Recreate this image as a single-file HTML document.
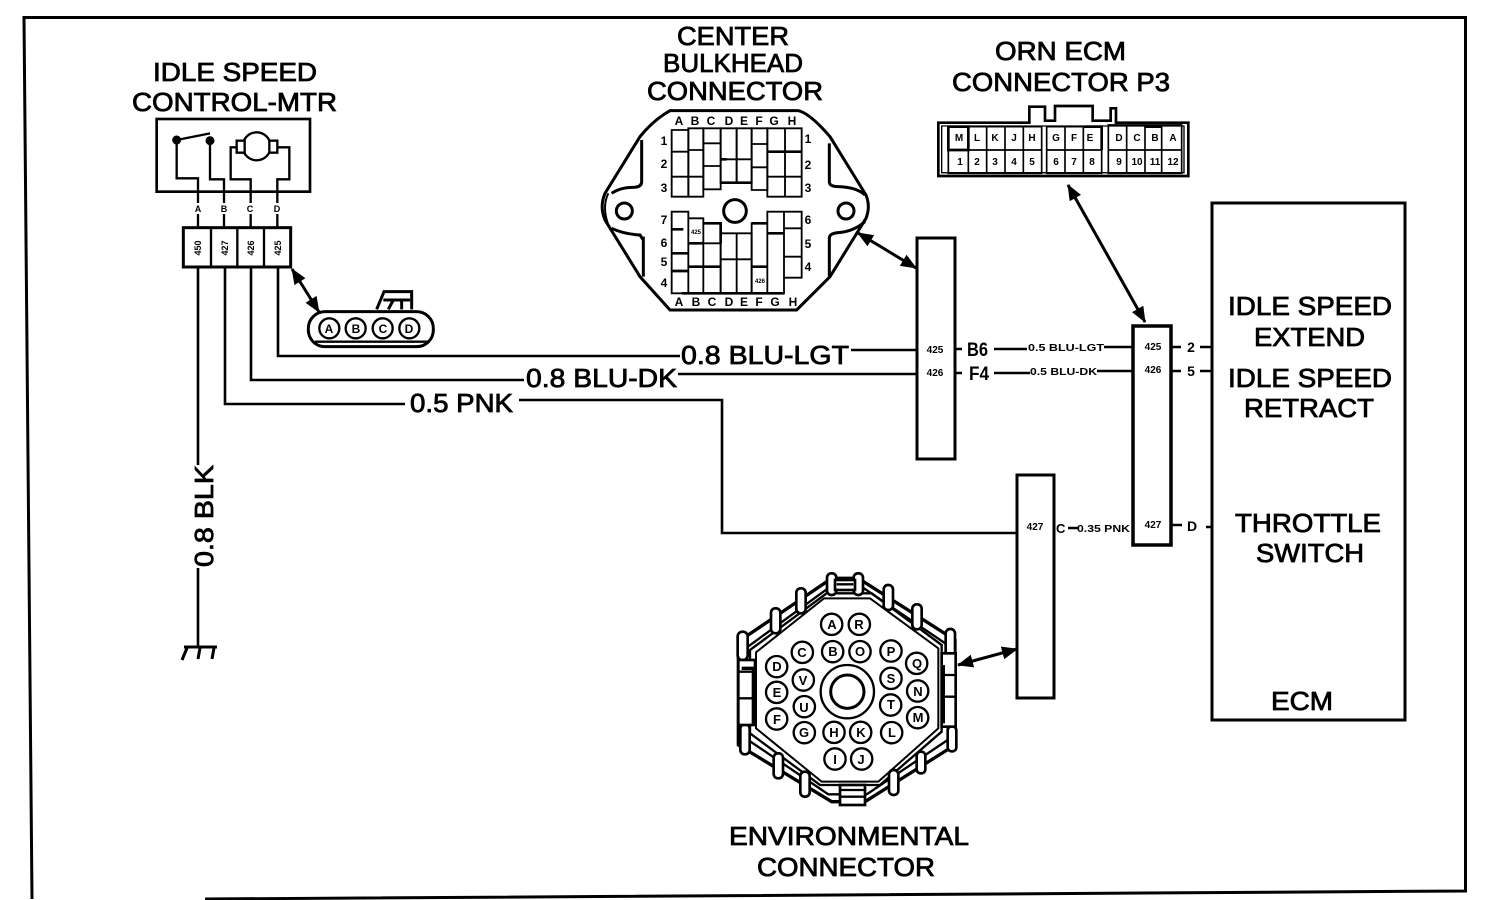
<!DOCTYPE html>
<html><head><meta charset="utf-8"><title>Idle Speed Control Diagram</title>
<style>
html,body{margin:0;padding:0;background:#fff}
svg{display:block}
text{font-family:"Liberation Sans",sans-serif;fill:#000}
.t{font-size:26px;stroke:#000;stroke-width:.8px}
.m{font-size:10px;font-weight:bold}
.s{font-size:9px}
.z{font-weight:bold;text-anchor:middle}
.w{fill:none;stroke:#000;stroke-width:2.6}
</style></head><body>
<svg width="1504" height="900" viewBox="0 0 1504 900" xmlns="http://www.w3.org/2000/svg">
<defs>
<marker id="b" markerWidth="16" markerHeight="13" refX="15" refY="6.500" orient="auto-start-reverse" markerUnits="userSpaceOnUse" viewBox="0 0 16 13"><path d="M0 0L16 6.500L0 13Z"/></marker>
</defs>
<rect width="1504" height="900" fill="#fff"/>

<!-- frame -->
<path d="M32 899L24 17.500L1465.500 17.500V891L205 899" fill="none" stroke="#000" stroke-width="3"/>

<!-- headings -->
<text class="t" x="153" y="81" textLength="164" lengthAdjust="spacingAndGlyphs">IDLE SPEED</text>
<text class="t" x="132" y="111" textLength="205" lengthAdjust="spacingAndGlyphs">CONTROL-MTR</text>
<text class="t" x="677" y="45" textLength="112" lengthAdjust="spacingAndGlyphs">CENTER</text>
<text class="t" x="663" y="72" textLength="140" lengthAdjust="spacingAndGlyphs">BULKHEAD</text>
<text class="t" x="647" y="100" textLength="176" lengthAdjust="spacingAndGlyphs">CONNECTOR</text>
<text class="t" x="995" y="60" textLength="131" lengthAdjust="spacingAndGlyphs">ORN ECM</text>
<text class="t" x="952" y="91" textLength="218" lengthAdjust="spacingAndGlyphs">CONNECTOR P3</text>
<text class="t" x="729" y="845" textLength="240" lengthAdjust="spacingAndGlyphs">ENVIRONMENTAL</text>
<text class="t" x="757" y="876" textLength="178" lengthAdjust="spacingAndGlyphs">CONNECTOR</text>

<!-- ECM -->
<rect x="1212" y="203" width="193" height="517" fill="none" stroke="#000" stroke-width="3"/>
<text class="t" x="1228" y="315" textLength="164" lengthAdjust="spacingAndGlyphs">IDLE SPEED</text>
<text class="t" x="1254" y="346" textLength="111" lengthAdjust="spacingAndGlyphs">EXTEND</text>
<text class="t" x="1228" y="387" textLength="164" lengthAdjust="spacingAndGlyphs">IDLE SPEED</text>
<text class="t" x="1244" y="417" textLength="130" lengthAdjust="spacingAndGlyphs">RETRACT</text>
<text class="t" x="1235" y="532" textLength="146" lengthAdjust="spacingAndGlyphs">THROTTLE</text>
<text class="t" x="1256" y="562" textLength="108" lengthAdjust="spacingAndGlyphs">SWITCH</text>
<text class="t" x="1271" y="710" textLength="62" lengthAdjust="spacingAndGlyphs">ECM</text>

<!-- motor box -->
<g transform="translate(130 50) scale(.33333)" fill="none" stroke="#000">
<rect x="80" y="207" width="460" height="218" stroke-width="8"/>
<path d="M140 270V385H204V530M240 272V388H282V530M362 530V388H302V292H325M442 530V388H478V292H440" stroke-width="7"/>
<circle cx="140" cy="270" r="13" fill="#000"/><circle cx="240" cy="272" r="13" fill="#000"/>
<path d="M140 270L240 250" stroke-width="7"/>
<circle cx="380" cy="289" r="42" stroke-width="7" fill="#fff"/>
<rect x="320" y="272" width="24" height="36" stroke-width="7" fill="#fff"/><rect x="418" y="272" width="24" height="36" stroke-width="7" fill="#fff"/>
<rect x="160" y="533" width="322" height="118" stroke-width="9" fill="#fff"/>
<path d="M243 533V651M322 533V651M402 533V651" stroke-width="7"/>
</g>
<g class="s">
<rect x="190" y="203" width="96" height="11" fill="#fff"/>
<text class="z" x="198" y="212" font-size="9">A</text><text class="z" x="224" y="212" font-size="9">B</text><text class="z" x="250" y="212" font-size="9">C</text><text class="z" x="277" y="212" font-size="9">D</text>
<text class="z" font-size="9" transform="translate(201 248) rotate(-90)">450</text>
<text class="z" font-size="9" transform="translate(228 248) rotate(-90)">427</text>
<text class="z" font-size="9" transform="translate(254 248) rotate(-90)">426</text>
<text class="z" font-size="9" transform="translate(281 248) rotate(-90)">425</text>
</g>

<!-- wires from motor connector -->
<path class="w" d="M198 267V465M198 568V648"/>
<path class="w" d="M225 267V404H405M519 400H722V533H1017"/>
<path class="w" d="M251 267V380H524M678 374H916"/>
<path class="w" d="M278 267V356H680M851 350H916"/>
<text class="t" transform="translate(213 567) rotate(-90)" textLength="102" lengthAdjust="spacingAndGlyphs">0.8 BLK</text>
<text class="t" x="410" y="412" textLength="103" lengthAdjust="spacingAndGlyphs">0.5 PNK</text>
<text class="t" x="526" y="387" textLength="151" lengthAdjust="spacingAndGlyphs">0.8 BLU-DK</text>
<text class="t" x="681" y="364" textLength="168" lengthAdjust="spacingAndGlyphs">0.8 BLU-LGT</text>
<path d="M184 647H217M187 648L182 660M200 648L198 659M214 648L212 659" fill="none" stroke="#000" stroke-width="3"/>

<!-- small connector -->
<g transform="translate(130 50) scale(.33333)" fill="none" stroke="#000">
<rect x="535" y="785" width="375" height="105" rx="50" stroke-width="9"/>
<path d="M555 875H895" stroke-width="7"/>
<path d="M740 778L762 725H845V778M760 750H840M775 778L790 750M815 750V778" stroke-width="9"/>
<circle cx="598" cy="835" r="30" stroke-width="7" fill="#fff"/><circle cx="677" cy="835" r="30" stroke-width="7" fill="#fff"/><circle cx="758" cy="835" r="30" stroke-width="7" fill="#fff"/><circle cx="838" cy="835" r="30" stroke-width="7" fill="#fff"/>
</g>
<g font-size="12"><text class="z" x="329" y="333">A</text><text class="z" x="356" y="333">B</text><text class="z" x="383" y="333">C</text><text class="z" x="409" y="333">D</text></g>
<path d="M292 269L319 312" stroke="#000" stroke-width="3" marker-start="url(#b)" marker-end="url(#b)"/>

<!-- bulkhead connector -->
<g transform="translate(590 100) scale(.33333)" fill="none" stroke="#000">
<path d="M240 32H625Q660 40 720 110L828 285Q842 320 828 355L720 530L620 630H240L150 530L45 360Q28 320 45 280L150 110Q190 60 240 32Z" stroke-width="9"/>
<path d="M155 120V245Q155 262 130 262Q90 262 65 280M160 410V530M65 385Q100 402 150 405L160 420M718 130V245Q718 260 745 260Q800 262 825 285M718 530V415Q718 400 745 398Q790 395 825 365" stroke-width="9"/>
<path d="M55 280Q35 320 55 375" stroke-width="6"/>
<circle cx="103" cy="333" r="24" stroke-width="9"/><circle cx="435" cy="333" r="34" stroke-width="9"/><circle cx="768" cy="333" r="24" stroke-width="9"/>
<g stroke-width="5.500">
<path d="M245 90H295V290H245ZM245 155H295M245 230H295"/>
<path d="M295 85H340V290H295ZM295 150H340M295 230H340"/>
<path d="M340 85H392V268H340ZM340 130H392M340 198H392"/>
<path d="M392 85H440V248H392ZM392 178H440"/>
<path d="M440 85H485V248H440ZM440 178H485"/>
<path d="M485 85H532V270H485ZM485 132H532M485 202H532"/>
<path d="M532 85H585V290H532ZM585 85H635V290H585ZM532 230H635"/>
<path d="M245 335H295V580H245ZM295 355H340V580H295ZM340 430H392V580H340Z"/>
<path d="M392 400H440V580H392ZM440 400H485V580H440ZM392 478H485"/>
<path d="M485 370H532V580H485ZM532 335H582V580H532ZM582 335H635V533H582ZM582 385H635M582 470H635"/>
</g>
<path d="M532 155H635M392 178H410M392 248H485M245 388H280M245 460H295M245 513H295M295 430H340M295 500H392M340 370H392V430M485 370H532M485 500H532M532 400H582M275 580H582" stroke-width="8"/>
</g>
<g font-size="12">
<g class="z">
<text x="679" y="125">A</text><text x="695" y="125">B</text><text x="711" y="125">C</text><text x="729" y="125">D</text><text x="744" y="125">E</text><text x="759" y="125">F</text><text x="774" y="125">G</text><text x="792" y="125">H</text>
<text x="679" y="306">A</text><text x="696" y="306">B</text><text x="712" y="306">C</text><text x="729" y="306">D</text><text x="744" y="306">E</text><text x="759" y="306">F</text><text x="775" y="306">G</text><text x="793" y="306">H</text>
<text x="664" y="145">1</text><text x="664" y="168">2</text><text x="664" y="192">3</text>
<text x="808" y="143">1</text><text x="808" y="169">2</text><text x="808" y="192">3</text>
<text x="664" y="224">7</text><text x="664" y="247">6</text><text x="664" y="266">5</text><text x="664" y="287">4</text>
<text x="808" y="224">6</text><text x="808" y="248">5</text><text x="808" y="271">4</text>
</g>
<text class="z" x="696" y="234" font-size="6">425</text><text class="z" x="760" y="283" font-size="6">426</text>
</g>
<path d="M858 233L916 268" stroke="#000" stroke-width="3" marker-start="url(#b)" marker-end="url(#b)"/>

<!-- ORN ECM connector -->
<g transform="translate(930 90) scale(.33333)" fill="none" stroke="#000">
<path d="M25 98H298V50H345V92H375V48H488V92H542V55H558V98H775V258H25Z" stroke-width="8"/>
<path d="M35 108H762V248H35Z" stroke-width="4"/>
<g stroke-width="5">
<path d="M55 110H335V250H55ZM115 110V250M170 110V250M225 110V250M280 110V250M55 180H335"/>
<path d="M350 110H515V250H350ZM405 110V250M460 110V250M350 180H515"/>
<path d="M535 105H755V250H535ZM590 105V250M645 105V250M695 105V250M535 180H755"/>
</g>
<path d="M55 110H115V180H55ZM460 110H515V180M645 110H695" stroke-width="8"/>
</g>
<g font-size="10" class="z">
<text class="z" x="959" y="141">M</text><text class="z" x="977" y="141">L</text><text class="z" x="995" y="141">K</text><text class="z" x="1014" y="141">J</text><text class="z" x="1032" y="141">H</text>
<text class="z" x="1056" y="141">G</text><text class="z" x="1074" y="141">F</text><text class="z" x="1090" y="141">E</text>
<text class="z" x="1119" y="141">D</text><text class="z" x="1137" y="141">C</text><text class="z" x="1155" y="141">B</text><text class="z" x="1173" y="141">A</text>
<text class="z" x="960" y="165">1</text><text class="z" x="977" y="165">2</text><text class="z" x="995" y="165">3</text><text class="z" x="1014" y="165">4</text><text class="z" x="1032" y="165">5</text>
<text class="z" x="1056" y="165">6</text><text class="z" x="1074" y="165">7</text><text class="z" x="1092" y="165">8</text>
<text class="z" x="1119" y="165">9</text><text class="z" x="1137" y="165">10</text><text class="z" x="1155" y="165">11</text><text class="z" x="1173" y="165">12</text>
</g>
<path d="M1068 185L1145 322" stroke="#000" stroke-width="3" marker-start="url(#b)" marker-end="url(#b)"/>

<!-- blocks -->
<rect x="917" y="238" width="38" height="221" fill="#fff" stroke="#000" stroke-width="3"/>
<rect x="1133" y="326" width="38" height="219" fill="#fff" stroke="#000" stroke-width="3.500"/>
<rect x="1017" y="475" width="37" height="223" fill="#fff" stroke="#000" stroke-width="3"/>

<g class="m">
<text class="z" x="935" y="353" font-size="10">425</text><text class="z" x="935" y="376" font-size="10">426</text>
<text class="z" x="1153" y="350" font-size="10">425</text><text class="z" x="1153" y="373" font-size="10">426</text>
<text class="z" x="1035" y="530" font-size="10">427</text><text class="z" x="1153" y="528" font-size="10">427</text>
</g>
<!-- right wiring -->
<path class="w" d="M956 349H962M956 373H962M994 349H1027M994 373H1030M1104 347H1133M1097 371H1133M1172 347H1181M1172 371H1181M1200 347H1211M1200 371H1211M1172 525H1182M1206 527H1211M1068 528H1078"/>
<text x="967" y="356" font-size="19" font-weight="bold" textLength="21" lengthAdjust="spacingAndGlyphs">B6</text>
<text x="969" y="380" font-size="19" font-weight="bold" textLength="20" lengthAdjust="spacingAndGlyphs">F4</text>
<text x="1028" y="351" font-size="10" font-weight="bold" textLength="76" lengthAdjust="spacingAndGlyphs">0.5 BLU-LGT</text>
<text x="1030" y="375" font-size="10" font-weight="bold" textLength="67" lengthAdjust="spacingAndGlyphs">0.5 BLU-DK</text>
<text x="1056" y="533" font-size="13" font-weight="bold">C</text>
<text x="1077" y="532" font-size="10" font-weight="bold" textLength="53" lengthAdjust="spacingAndGlyphs">0.35 PNK</text>
<text class="z" x="1191" y="352" font-size="14">2</text><text class="z" x="1191" y="376" font-size="14">5</text><text class="z" x="1192" y="531" font-size="14">D</text>

<!-- environmental connector -->
<g transform="translate(725 565) scale(.33333)" fill="none" stroke="#000">
<path d="M320 40H400L690 225V540L420 710H320L40 540V230Z" stroke-width="10"/>
<path d="M320 62H405L668 240V525L425 688H310L62 520V250Z" stroke-width="7"/>
<path d="M305 85H440L650 240V500L465 660H285L75 505V255Z" stroke-width="7"/>
<path d="M297 100H435L640 250V490L460 650H290L93 490V262Z" stroke-width="6" fill="#fff"/>
<g fill="#fff" stroke-width="8">
<rect x="306" y="25" width="28" height="65" rx="13"/><rect x="386" y="25" width="28" height="65" rx="13"/>
<rect x="214" y="70" width="28" height="75" rx="13"/><rect x="138" y="130" width="28" height="75" rx="13"/>
<rect x="476" y="60" width="28" height="75" rx="13"/><rect x="562" y="118" width="28" height="75" rx="13"/>
<rect x="38" y="200" width="30" height="85" rx="14"/><rect x="662" y="192" width="28" height="85" rx="13"/>
<rect x="46" y="478" width="28" height="90" rx="13"/><rect x="668" y="484" width="26" height="75" rx="12"/>
<rect x="146" y="565" width="28" height="75" rx="13"/><rect x="226" y="620" width="28" height="75" rx="13"/>
<rect x="492" y="615" width="28" height="75" rx="13"/><rect x="575" y="560" width="26" height="65" rx="12"/>
<rect x="40" y="285" width="50" height="195"/><rect x="650" y="265" width="42" height="220"/>
<rect x="330" y="45" width="60" height="30"/><rect x="345" y="660" width="75" height="60"/>
</g>
<path d="M40 320H85M40 400H85M650 330H692M650 395H692M345 675H420M345 695H420M335 58H385" stroke-width="7"/>
<path d="M50 310H85V480M655 300V475" stroke-width="10"/>
<circle cx="367" cy="380" r="80" stroke-width="7" fill="#fff"/>
<circle cx="367" cy="380" r="50" stroke-width="9"/>
<g stroke-width="7" fill="#fff">
<circle cx="320" cy="178" r="32"/><circle cx="403" cy="178" r="32"/>
<circle cx="323" cy="260" r="32"/><circle cx="405" cy="260" r="32"/><circle cx="232" cy="262" r="32"/><circle cx="498" cy="258" r="32"/>
<circle cx="155" cy="305" r="32"/><circle cx="235" cy="345" r="32"/><circle cx="498" cy="340" r="32"/><circle cx="575" cy="295" r="32"/>
<circle cx="155" cy="382" r="32"/><circle cx="238" cy="425" r="32"/><circle cx="497" cy="420" r="32"/><circle cx="578" cy="378" r="32"/>
<circle cx="155" cy="462" r="32"/><circle cx="238" cy="503" r="32"/><circle cx="327" cy="502" r="32"/><circle cx="407" cy="502" r="32"/><circle cx="500" cy="503" r="32"/><circle cx="578" cy="458" r="32"/>
<circle cx="330" cy="582" r="32"/><circle cx="410" cy="582" r="32"/>
</g>
</g>
<g font-size="13" class="z">
<text class="z" x="832" y="629">A</text><text class="z" x="859" y="629">R</text>
<text class="z" x="833" y="656">B</text><text class="z" x="860" y="656">O</text><text class="z" x="802" y="657">C</text><text class="z" x="891" y="656">P</text>
<text class="z" x="777" y="671">D</text><text class="z" x="803" y="685">V</text><text class="z" x="891" y="683">S</text><text class="z" x="917" y="668">Q</text>
<text class="z" x="777" y="697">E</text><text class="z" x="804" y="712">U</text><text class="z" x="891" y="709">T</text><text class="z" x="918" y="696">N</text>
<text class="z" x="777" y="724">F</text><text class="z" x="804" y="737">G</text><text class="z" x="834" y="737">H</text><text class="z" x="861" y="737">K</text><text class="z" x="892" y="737">L</text><text class="z" x="918" y="722">M</text>
<text class="z" x="835" y="764">I</text><text class="z" x="861" y="764">J</text>
</g>
<path d="M958 665L1017 649" stroke="#000" stroke-width="3" marker-start="url(#b)" marker-end="url(#b)"/>
</svg>
</body></html>
